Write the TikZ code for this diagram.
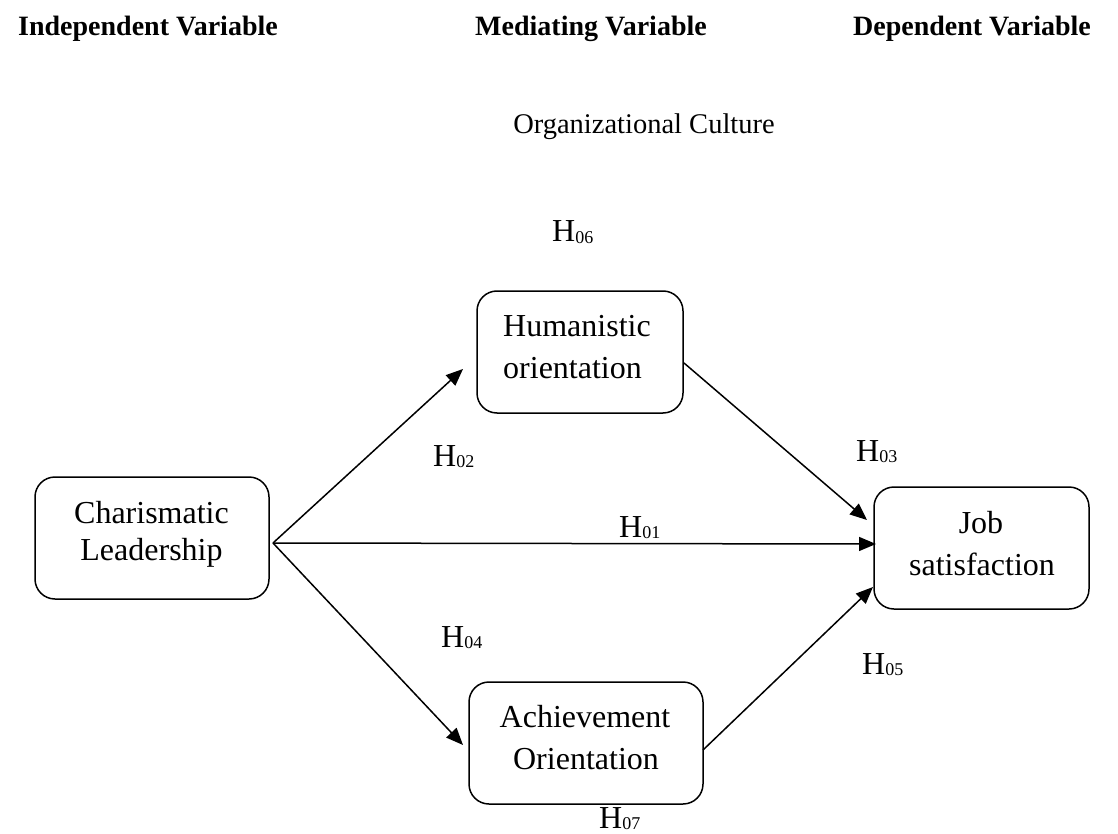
\documentclass[tikz,border=0pt]{standalone}
\usepackage{fontspec}
\setmainfont{Liberation Serif}
\usetikzlibrary{arrows.meta}
\newcommand{\hyp}[1]{H\raisebox{-0.06em}{\fontsize{18}{18}\selectfont #1}}
\begin{document}
\begin{tikzpicture}[x=1pt,y=-1pt,
  box/.style={draw,line width=1.5pt,rounded corners=20pt,inner sep=0pt},
  btext/.style={font=\fontsize{32}{37}\selectfont,inner sep=0pt,anchor=base},
  head/.style={font=\fontsize{28}{32}\selectfont\bfseries,anchor=center},
  hlab/.style={font=\fontsize{32}{36}\selectfont,inner sep=0pt,anchor=base west},
  conn/.style={line width=1.5pt,-{Triangle[length=17pt,width=14pt]}}]
\path[use as bounding box,fill=white] (0,0) rectangle (1118,834);
\node[head] (iv) at (148,29) {Independent Variable};
\node[head] (mv) at (591,29) {Mediating Variable};
\node[head] (dv) at (972,29) {Dependent Variable};
\node[font=\fontsize{28.5}{32}\selectfont] (oc) at (644,127) {Organizational Culture};
% boxes
\draw[box] (35,477) rectangle (269,599);
\node[inner sep=0pt,minimum width=234pt,minimum height=122pt] (cl) at (152,538) {};
\draw[box] (477,291) rectangle (683,413);
\node[inner sep=0pt,minimum width=206pt,minimum height=122pt] (hum) at (580,352) {};
\draw[box] (874,487) rectangle (1089,609);
\node[inner sep=0pt,minimum width=215pt,minimum height=122pt] (job) at (981.5,548) {};
\draw[box] (469,682) rectangle (703,804);
\node[inner sep=0pt,minimum width=234pt,minimum height=122pt] (ach) at (586,743) {};
% box texts
\node[btext] (cl1) at (151.5,523) {Charismatic};
\node[btext] (cl2) at (151.5,560) {Leadership};
\node[btext,anchor=base west] (hum1) at (503,336) {Humanistic};
\node[btext,anchor=base west] (hum2) at (503,378) {orientation};
\node[btext] (job1) at (981,533) {Job};
\node[btext] (job2) at (982,575) {satisfaction};
\node[btext] (ach1) at (585,727) {Achievement};
\node[btext] (ach2) at (586,769) {Orientation};
% connectors
\coordinate (s0) at (273,543);
\coordinate (t1) at (463,369);
\coordinate (t2) at (876,544);
\coordinate (t3) at (463,745);
\coordinate (s4) at (684,363);
\coordinate (t4) at (867,520);
\coordinate (s5) at (703,750);
\coordinate (t5) at (873,587);
\draw[conn] (s0) -- (t1);
\draw[conn] (s0) -- (t2);
\draw[conn] (s0) -- (t3);
\draw[conn] (s4) -- (t4);
\draw[conn] (s5) -- (t5);
% labels
\node[hlab] (h06) at (552,242) {\hyp{06}};
\node[hlab] (h02) at (433,466) {\hyp{02}};
\node[hlab] (h03) at (856,461) {\hyp{03}};
\node[hlab] (h01) at (619,537) {\hyp{01}};
\node[hlab] (h04) at (441,647) {\hyp{04}};
\node[hlab] (h05) at (862,674) {\hyp{05}};
\node[hlab] (h07) at (599,828) {\hyp{07}};
\end{tikzpicture}
\end{document}
